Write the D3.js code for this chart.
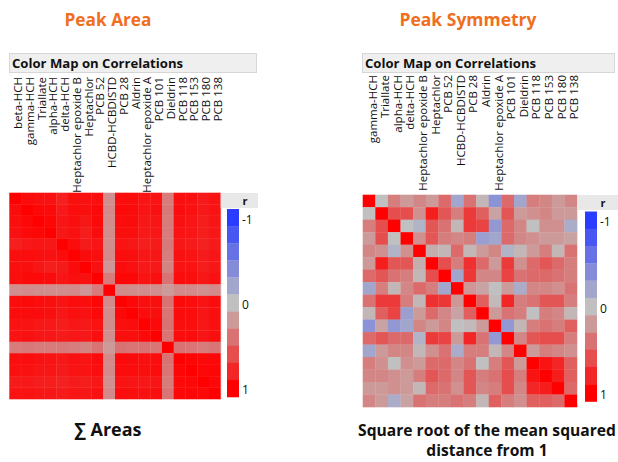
<!DOCTYPE html>
<html>
<head>
<meta charset="utf-8">
<script src="https://cdn.jsdelivr.net/npm/d3@7"></script>
<style>
  html, body { margin: 0; padding: 0; background: #ffffff; }
  svg { display: block; }
</style>
</head>
<body>
<svg id="chart" width="618" height="462"></svg>
<script>
// ---- data -------------------------------------------------------------
const areaLabels = ["beta-HCH", "gamma-HCH", "Triallate", "alpha-HCH", "delta-HCH",
  "Heptachlor epoxide B", "Heptachlor", "PCB 52", "HCBD-HCBDISTD", "PCB 28", "Aldrin",
  "Heptachlor epoxide A", "PCB 101", "Dieldrin", "PCB 118", "PCB 153", "PCB 180", "PCB 138"];

const symLabels = ["gamma-HCH", "Triallate", "alpha-HCH", "delta-HCH",
  "Heptachlor epoxide B", "Heptachlor", "PCB 52", "HCBD-HCBDISTD", "PCB 28", "Aldrin",
  "Heptachlor epoxide A", "PCB 101", "Dieldrin", "PCB 118", "PCB 153", "PCB 180", "PCB 138"];

// correlation matrices, stored as lower triangles (row i holds columns 0..i)
const areaCorrLower = [
  [1],
  [0.94, 1],
  [0.92, 0.96, 1],
  [0.91, 0.95, 0.97, 1],
  [0.84, 0.87, 0.89, 0.88, 1],
  [0.92, 0.93, 0.92, 0.91, 0.93, 1],
  [0.91, 0.92, 0.88, 0.85, 0.86, 0.94, 1],
  [0.92, 0.95, 0.95, 0.94, 0.89, 0.92, 0.91, 1],
  [0.26, 0.28, 0.27, 0.27, 0.27, 0.28, 0.22, 0.36, 1],
  [0.93, 0.95, 0.93, 0.92, 0.90, 0.93, 0.93, 0.97, 0.28, 1],
  [0.93, 0.94, 0.94, 0.92, 0.88, 0.92, 0.91, 0.96, 0.27, 0.96, 1],
  [0.90, 0.90, 0.88, 0.87, 0.85, 0.88, 0.87, 0.90, 0.27, 0.92, 0.93, 1],
  [0.90, 0.91, 0.89, 0.88, 0.86, 0.88, 0.87, 0.92, 0.26, 0.92, 0.92, 0.95, 1],
  [0.36, 0.37, 0.36, 0.36, 0.37, 0.35, 0.32, 0.40, 0.20, 0.40, 0.39, 0.40, 0.39, 1],
  [0.92, 0.93, 0.91, 0.90, 0.88, 0.91, 0.90, 0.93, 0.28, 0.95, 0.94, 0.92, 0.93, 0.40, 1],
  [0.91, 0.91, 0.89, 0.89, 0.86, 0.90, 0.90, 0.92, 0.28, 0.93, 0.93, 0.92, 0.93, 0.39, 0.97, 1],
  [0.86, 0.87, 0.85, 0.85, 0.83, 0.86, 0.85, 0.88, 0.25, 0.90, 0.89, 0.88, 0.89, 0.36, 0.95, 0.96, 1],
  [0.90, 0.90, 0.89, 0.88, 0.86, 0.89, 0.88, 0.91, 0.28, 0.93, 0.92, 0.91, 0.92, 0.39, 0.96, 0.97, 0.96, 1]
];

const symCorrLower = [
  [1],
  [0.00, 1],
  [0.35, 0.60, 1],
  [0.20, 0.60, 0.00, 1],
  [0.30, 0.25, -0.10, 0.25, 1],
  [0.20, 0.85, 0.55, 0.55, 0.10, 1],
  [0.45, 0.55, 0.40, 0.35, 0.05, 0.60, 1],
  [-0.20, 0.35, 0.05, 0.30, 0.45, 0.35, -0.20, 1],
  [0.40, 0.70, 0.70, 0.35, 0.05, 0.75, 0.72, 0.22, 1],
  [0.05, 0.50, 0.65, -0.25, 0.20, 0.45, 0.30, 0.15, 0.50, 1],
  [-0.35, 0.15, -0.30, -0.20, 0.30, 0.20, 0.30, 0.00, 0.03, 0.20, 1],
  [0.45, 0.55, 0.45, 0.45, -0.10, 0.70, 0.65, 0.20, 0.80, 0.40, -0.30, 1],
  [-0.20, 0.20, 0.30, 0.30, 0.05, 0.25, 0.40, -0.15, 0.35, 0.35, 0.05, 0.30, 1],
  [0.35, 0.25, 0.00, 0.25, 0.20, 0.45, 0.45, 0.30, 0.40, 0.00, 0.35, 0.55, 0.20, 1],
  [0.30, 0.30, 0.25, 0.20, 0.35, 0.55, 0.45, 0.30, 0.55, 0.35, 0.40, 0.60, 0.35, 0.90, 1],
  [0.20, 0.20, 0.25, 0.20, 0.05, 0.45, 0.40, 0.25, 0.55, 0.30, 0.35, 0.60, 0.30, 0.80, 0.85, 1],
  [0.30, 0.20, -0.15, 0.15, 0.40, 0.35, 0.35, 0.40, 0.35, 0.05, 0.50, 0.35, 0.25, 0.50, 0.50, 0.45, 1]
];

const legendSteps = [-1, -0.8, -0.6, -0.4, -0.2, 0, 0.2, 0.4, 0.6, 0.8, 1];
const legendTicks = [-1, 0, 1];

// ---- shared styling ---------------------------------------------------
const color = d3.scaleLinear()
  .domain([-1, 0, 1])
  .range(["#2a3cff", "#c0c0c0", "#ff0000"])
  .interpolate(d3.interpolateRgb);

const svg = d3.select("#chart");
const FONT = "'Open Sans', 'DejaVu Sans', sans-serif";

// scale a text's font size so that it spans the given width
function fitWidth(sel, width) {
  const node = sel.node();
  const base = parseFloat(sel.attr("font-size"));
  const w = node.getComputedTextLength();
  const size = base * width / w;
  sel.attr("font-size", size.toFixed(2));
  return size;
}

function cellValue(lower, i, j) {
  return i >= j ? lower[i][j] : lower[j][i];
}

// ---- one correlation map panel ---------------------------------------
function drawPanel(p) {
  const g = svg.append("g");

  // panel heading
  const t = g.append("text")
    .attr("x", p.titleX).attr("y", p.titleY)
    .attr("text-anchor", "middle")
    .attr("font-family", FONT).attr("font-weight", 700)
    .attr("font-size", 18).attr("fill", "#ef6f1f")
    .text(p.title);
  fitWidth(t, p.titleW);

  // report box header
  g.append("rect")
    .attr("x", p.boxX0 + 0.5).attr("y", 53.5)
    .attr("width", p.boxX1 - p.boxX0 - 1).attr("height", 19)
    .attr("fill", "#efefef").attr("stroke", "#d6d6d6");
  const bt = g.append("text")
    .attr("x", p.boxX0 + 3).attr("y", 68)
    .attr("font-family", FONT).attr("font-weight", 700)
    .attr("font-size", 13).attr("fill", "#111")
    .text("Color Map on Correlations");
  fitWidth(bt, 171);

  const x = d3.scaleBand().domain(p.labels).range([p.gx0, p.gx1]);
  const y = d3.scaleBand().domain(p.labels).range([p.gy0, p.gy1]);

  // column labels, rotated, hanging from a common top line
  g.append("g").selectAll("text")
    .data(p.labels)
    .join("text")
    .attr("transform", d => `translate(${x(d) + x.bandwidth() / 2 + p.labelDx},${p.labelTop}) rotate(-90)`)
    .attr("text-anchor", "end")
    .attr("font-family", FONT)
    .attr("font-size", p.labelSize)
    .attr("fill", "#111")
    .text(d => d);

  // cells
  const cells = [];
  p.labels.forEach((r, i) => p.labels.forEach((c, j) => {
    cells.push({ r, c, v: cellValue(p.lower, i, j) });
  }));
  g.append("g").selectAll("rect")
    .data(cells)
    .join("rect")
    .attr("x", d => x(d.c))
    .attr("y", d => y(d.r))
    .attr("width", x.bandwidth() + 0.3)
    .attr("height", y.bandwidth() + 0.3)
    .attr("fill", d => color(d.v));

  // legend
  g.append("rect")
    .attr("x", p.gx1).attr("y", p.legY0)
    .attr("width", p.legX1 - p.gx1).attr("height", p.legHead)
    .attr("fill", "#e8e8e8");
  g.append("line")
    .attr("x1", p.gx1 + 0.5).attr("x2", p.gx1 + 0.5)
    .attr("y1", p.legY0).attr("y2", p.legBar1 + 2)
    .attr("stroke", "#e4e4e4");
  g.append("text")
    .attr("x", p.rX).attr("y", p.legY0 + p.legHead - 3)
    .attr("font-family", FONT).attr("font-weight", 700)
    .attr("font-size", 11).attr("fill", "#111")
    .text("r");

  const ly = d3.scaleBand().domain(legendSteps).range([p.legBar0, p.legBar1]);
  g.append("g").selectAll("rect")
    .data(legendSteps)
    .join("rect")
    .attr("x", p.barX).attr("y", d => ly(d))
    .attr("width", 12).attr("height", ly.bandwidth() + 0.3)
    .attr("fill", d => color(d));
  g.append("g").selectAll("text")
    .data(legendTicks)
    .join("text")
    .attr("x", p.barX + 15)
    .attr("y", d => ly(d) + ly.bandwidth() / 2 + 6)
    .attr("font-family", FONT).attr("font-size", 12).attr("fill", "#111")
    .text(d => String(d));

  // caption below the map; every line shares the size fitted to the first
  let capSize = 15;
  p.caption.forEach((line, k) => {
    const c = g.append("text")
      .attr("x", p.capX).attr("y", 436 + k * 20)
      .attr("text-anchor", "middle")
      .attr("font-family", FONT).attr("font-weight", 700)
      .attr("font-size", capSize).attr("fill", "#111")
      .text(line);
    if (k === 0) capSize = fitWidth(c, p.capW);
  });
}

drawPanel({
  title: "Peak Area", titleX: 108, titleY: 26, titleW: 87,
  boxX0: 9, boxX1: 257,
  labels: areaLabels, lower: areaCorrLower,
  gx0: 9.3, gx1: 220.7, gy0: 192.7, gy1: 399,
  labelTop: 77, labelDx: 7, labelSize: 11.5,
  legY0: 193, legHead: 15, legX1: 258, rX: 242.5,
  barX: 227, legBar0: 209, legBar1: 397,
  caption: ["∑ Areas"], capX: 108, capW: 67
});

drawPanel({
  title: "Peak Symmetry", titleX: 468, titleY: 26, titleW: 137,
  boxX0: 362, boxX1: 615,
  labels: symLabels, lower: symCorrLower,
  gx0: 362.7, gx1: 577, gy0: 194.7, gy1: 407,
  labelTop: 75, labelDx: 7.5, labelSize: 11.5,
  legY0: 195, legHead: 15, legX1: 618, rX: 600.5,
  barX: 585, legBar0: 211.5, legBar1: 401.5,
  caption: ["Square root of the mean squared", "distance from 1"], capX: 487, capW: 258
});
</script>
</body>
</html>
